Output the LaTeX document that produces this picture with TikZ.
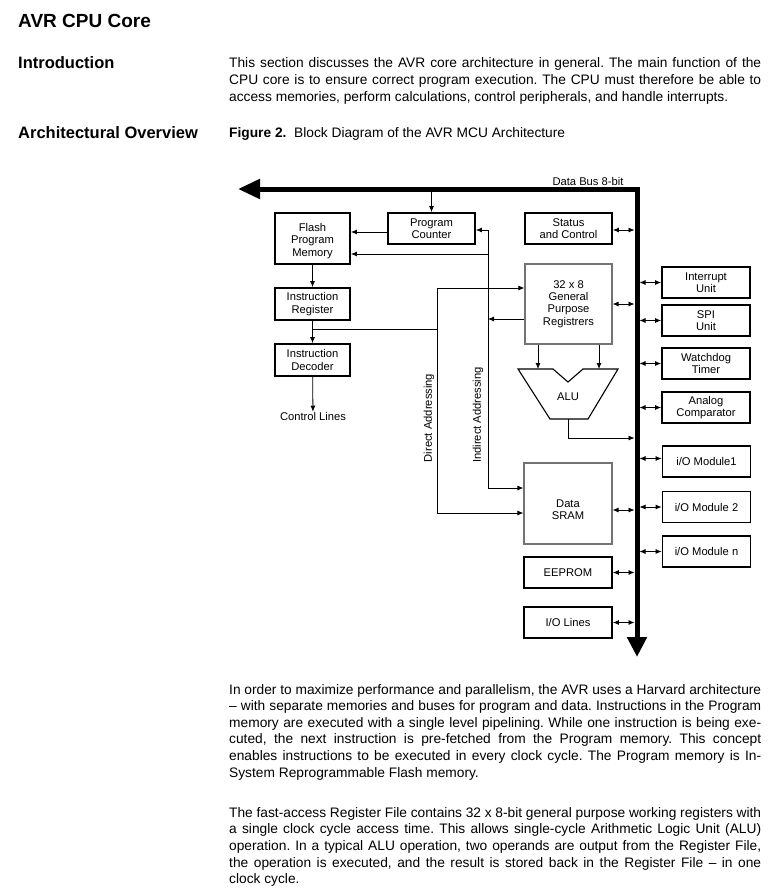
\documentclass[tikz,border=0pt]{standalone}
\usepackage{fontspec}
\setmainfont{Liberation Sans}
\usetikzlibrary{arrows.meta,calc}
\newcommand{\JL}[1]{\makebox[532pt][s]{#1}}
\frenchspacing
\begin{document}
\begin{tikzpicture}[x=1pt,y=-1pt,
  box/.style={draw=black, line width=1.8pt, inner sep=0pt, align=center,
    font=\fontsize{11.2}{12.3}\selectfont},
  gbox/.style={draw=black!55, line width=1.2pt, inner sep=0pt, align=center,
    font=\fontsize{11.2}{12.3}\selectfont},
  lbl/.style={inner sep=0pt, align=center, font=\fontsize{11.2}{12.3}\selectfont},
  arr/.style={-{Latex[length=6pt,width=5pt]}, line width=0.8pt},
  dbl/.style={{Latex[length=6pt,width=5pt]}-{Latex[length=6pt,width=5pt]}, line width=0.8pt},
  ln/.style={line width=0.8pt},
  bus/.style={line width=5pt, line join=miter,
    {Triangle[length=22pt,width=19pt]}-{Triangle[length=20pt,width=19pt]}},
  head/.style={anchor=base west, inner sep=0pt, font=\fontsize{16.5}{20}\selectfont\bfseries},
  txt/.style={anchor=base west, inner sep=0pt, font=\fontsize{13.75}{16}\selectfont}
]
\useasboundingbox (0,0) rectangle (777,889);

% ---------- page text ----------
\node[head, font=\fontsize{19}{22}\selectfont\bfseries] (title) at (18,27) {AVR CPU Core};
\node[head] (intro) at (18,68) {Introduction};
\node[head] (arch) at (18,138) {Architectural Overview};

\node[txt] (i1) at (229,67) {\JL{This section discusses the AVR core architecture in general. The main function of the}};
\node[txt] (i2) at (229,84) {\JL{CPU core is to ensure correct program execution. The CPU must therefore be able to}};
\node[txt] (i3) at (229,101) {access memories, perform calculations, control peripherals, and handle interrupts.};

\node[txt] (cap) at (229,137) {\textbf{Figure 2.}\ \ Block Diagram of the AVR MCU Architecture};

\node[txt] (p1) at (229,694) {\JL{In order to maximize performance and parallelism, the AVR uses a Harvard architecture}};
\node[txt] (p2) at (229,710.6) {\JL{– with separate memories and buses for program and data. Instructions in the Program}};
\node[txt] (p3) at (229,727.2) {\JL{memory are executed with a single level pipelining. While one instruction is being exe-}};
\node[txt] (p4) at (229,743.8) {\JL{cuted, the next instruction is pre-fetched from the Program memory. This concept}};
\node[txt] (p5) at (229,760.4) {\JL{enables instructions to be executed in every clock cycle. The Program memory is In-}};
\node[txt] (p6) at (229,777) {System Reprogrammable Flash memory.};

\node[txt] (q1) at (229,817) {\JL{The fast-access Register File contains 32 x 8-bit general purpose working registers with}};
\node[txt] (q2) at (229,833.7) {\JL{a single clock cycle access time. This allows single-cycle Arithmetic Logic Unit (ALU)}};
\node[txt] (q3) at (229,850.4) {\JL{operation. In a typical ALU operation, two operands are output from the Register File,}};
\node[txt] (q4) at (229,867.1) {\JL{the operation is executed, and the result is stored back in the Register File – in one}};
\node[txt] (q5) at (229,883.8) {clock cycle.};

% ---------- data bus ----------
\coordinate (busL) at (238,189);
\coordinate (busC) at (637,189);
\coordinate (busB) at (637,657);
\coordinate (bl) at (634.5,0);
\coordinate (br) at (639.5,0);
\coordinate (bt) at (0,191.5);
\draw[bus] (busL) -- (busC) -- (busB);
\node[lbl] (buslbl) at (588,181) {Data Bus 8-bit};

% ---------- left column ----------
\node[box, minimum width=75pt, minimum height=51pt] (flash) at (312.5,238.5) {};
\node[lbl] (flashtxt) at (312.5,241) {Flash\\Program\\Memory};
\node[box, minimum width=75pt, minimum height=32pt] (ir) at (312.5,304) {Instruction\\Register};
\node[box, minimum width=75pt, minimum height=32pt] (id) at (312.5,360) {Instruction\\Decoder};
\node[lbl] (ctrl) at (313,416) {Control Lines};

\node[box, minimum width=87pt, minimum height=31pt] (pc) at (431.5,228.5) {Program\\Counter};

% ---------- middle column ----------
\node[box, minimum width=87pt, minimum height=31pt] (status) at (568.5,228.5) {Status\\and Control};
\node[gbox, minimum width=87pt, minimum height=80pt] (regs) at (568.5,304) {32 x 8\\General\\Purpose\\Registrers};
\draw[line width=1.1pt, line join=miter] (518,369) -- (553,369) -- (568,382) -- (583,369) -- (618,369) -- (588,419) -- (550,419) -- cycle;
\node[lbl] (alu) at (568,397) {ALU};
\coordinate (aluinA) at (538,369);
\coordinate (aluinB) at (599,369);
\coordinate (aluout) at (568,419);
\coordinate (alubend) at (568,438);

\node[gbox, minimum width=88pt, minimum height=81pt] (sram) at (568,503.5) {};
\node[lbl] (sramtxt) at (568,509.5) {Data\\SRAM};
\node[box, minimum width=88pt, minimum height=31pt] (eeprom) at (568,572.5) {EEPROM};
\node[box, minimum width=88pt, minimum height=31pt] (iol) at (568,622.5) {I/O Lines};

% ---------- right column ----------
\node[box, minimum width=88pt, minimum height=31pt] (int) at (706,282.5) {Interrupt\\Unit};
\node[box, minimum width=88pt, minimum height=31pt] (spi) at (706,320.5) {SPI\\Unit};
\node[box, minimum width=88pt, minimum height=31pt] (wdt) at (706,363.5) {Watchdog\\Timer};
\node[box, minimum width=88pt, minimum height=31pt] (ana) at (706,407.5) {Analog\\Comparator};
\node[box, minimum width=88pt, minimum height=31pt] (io1) at (706.5,461.5) {i/O Module1};
\node[box, minimum width=88pt, minimum height=31pt] (io2) at (706.5,507) {i/O Module 2};
\node[box, minimum width=88pt, minimum height=31pt] (ion) at (706.5,551.5) {i/O Module n};

% ---------- connectors: left column ----------
\draw[arr] (flash) -- (ir);
\draw[arr] (ir) -- (id);
\draw[arr] (id) -- (ctrl);
\draw[arr] (pc.north |- bt) -- (pc.north);
\draw[arr] ([yshift=-3.5pt]pc.west) -- ([yshift=-3.5pt]pc.west -| flash.east);

% direct addressing
\coordinate (dT) at (437,288);
\coordinate (dM) at (437,329);
\coordinate (dB) at (437,513);
\draw[ln] (dM -| ir.south) -- (dM);
\draw[ln] (dT) -- (dB);
\draw[arr] (dT) -- (dT -| regs.west);
\draw[arr] (dB) -- (dB -| sram.west);
\node[lbl, rotate=90] (dlab) at (429,418) {Direct Addressing};

% indirect addressing
\coordinate (iT) at (488,230);
\coordinate (iF) at (488,254);
\coordinate (iR) at (488,319);
\coordinate (iB) at (488,488);
\draw[ln] (iT) -- (iB);
\draw[arr] (iT) -- (iT -| pc.east);
\draw[arr] (iF) -- (iF -| flash.east);
\draw[arr] (iR -| regs.west) -- (iR);
\draw[arr] (iB) -- (iB -| sram.west);
\node[lbl, rotate=90] (ilab) at (478,415) {Indirect Addressing};

% registers / ALU
\draw[arr] (regs.south -| aluinA) -- (aluinA);
\draw[arr] (regs.south -| aluinB) -- (aluinB);
\draw[ln] (aluout) -- (alubend);
\draw[arr] (alubend) -- (alubend -| bl);

% ---------- connectors to bus ----------
\draw[dbl] ([yshift=-1.5pt]status.east) -- ([yshift=-1.5pt]status.east -| bl);
\draw[dbl] (regs.east) -- (regs.east -| bl);
\draw[dbl] ([yshift=-6.5pt]sram.east) -- ([yshift=-6.5pt]sram.east -| bl);
\draw[dbl] (eeprom.east) -- (eeprom.east -| bl);
\draw[dbl] (iol.east) -- (iol.east -| bl);

\draw[dbl] (int.west -| br) -- (int.west);
\draw[dbl] (spi.west -| br) -- (spi.west);
\draw[dbl] (wdt.west -| br) -- (wdt.west);
\draw[dbl] (ana.west -| br) -- (ana.west);
\draw[dbl] ([yshift=3pt]io1.west -| br) -- ([yshift=3pt]io1.west);
\draw[dbl] (io2.west -| br) -- (io2.west);
\draw[dbl] (ion.west -| br) -- (ion.west);
\end{tikzpicture}
\end{document}
